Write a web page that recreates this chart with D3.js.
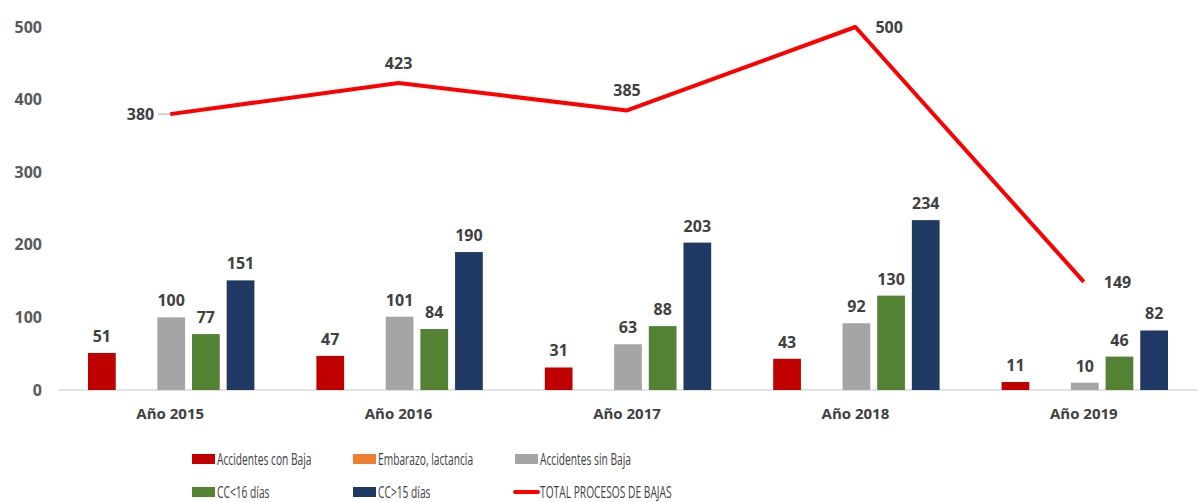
<!DOCTYPE html>
<html>
<head>
<meta charset="utf-8">
<script src="https://cdn.jsdelivr.net/npm/d3@7"></script>
<style>
  body { margin: 0; background: #fff; }
  svg { display: block; }
  .val { font-family: "Open Sans", sans-serif; font-weight: bold; font-size: 16px; fill: #404040; }
  .cat { font-family: "Open Sans", sans-serif; font-weight: bold; font-size: 15px; fill: #404040; }
  .tick text { font-family: "Open Sans", sans-serif; font-weight: bold; font-size: 16px; fill: #595959; }
  .leg { font-family: "Open Sans", sans-serif; font-size: 16.5px; fill: #404040; }
</style>
</head>
<body>
<svg width="1198" height="502"></svg>
<script>
// data
const years = ['Año 2015', 'Año 2016', 'Año 2017', 'Año 2018', 'Año 2019']
const accConBaja = [51, 47, 31, 43, 11]
const embarazo = [0, 0, 0, 0, 0]
const accSinBaja = [100, 101, 63, 92, 10]
const ccMenor16 = [77, 84, 88, 130, 46]
const ccMayor15 = [151, 190, 203, 234, 82]
const totalBajas = [380, 423, 385, 500, 149]
const yTicks = [0, 100, 200, 300, 400, 500]

const seriesNames = ['Accidentes con Baja', 'Embarazo, lactancia', 'Accidentes sin Baja', 'CC<16 días', 'CC>15 días']
const seriesColors = ['#c00000', '#ed7d31', '#a5a5a5', '#548235', '#203864']
const barSeries = [accConBaja, embarazo, accSinBaja, ccMenor16, ccMayor15]
const lineName = 'TOTAL PROCESOS DE BAJAS'
// where each total label sits relative to its point
const lineLabelPos = ['left', 'top', 'top', 'right', 'right']

const svg = d3.select('svg')
const margin = {left: 56, right: 0}
const width = 1198, height = 502

const x = d3.scaleBand().domain(years).range([margin.left, width - margin.right])
  .paddingInner(0).paddingOuter(0)
const xs = d3.scaleBand().domain(d3.range(barSeries.length))
  .range([32, x.bandwidth() - 30]).paddingInner(0.2).paddingOuter(0)
const y = d3.scaleLinear().domain([0, 500]).range([390, 27])

// y axis, labels only
const yAxis = svg.append('g')
  .attr('transform', 'translate(42,0)')
  .call(d3.axisLeft(y).tickValues(yTicks).tickSize(0).tickPadding(0))
yAxis.select('.domain').remove()

// baseline
svg.append('line')
  .attr('x1', 58).attr('x2', width)
  .attr('y1', y(0)).attr('y2', y(0))
  .attr('stroke', '#d9d9d9').attr('stroke-width', 1.5)

// category labels
svg.selectAll('.cat')
  .data(years)
  .enter()
  .append('text')
  .attr('class', 'cat')
  .attr('x', d => x(d) + x.bandwidth() / 2)
  .attr('y', 419)
  .attr('text-anchor', 'middle')
  .text(d => d)

// bars
barSeries.forEach((vals, s) => {
  const g = svg.append('g')
  g.selectAll('rect')
    .data(vals)
    .enter()
    .append('rect')
    .attr('x', (d, i) => x(years[i]) + xs(s))
    .attr('width', xs.bandwidth())
    .attr('y', d => y(d))
    .attr('height', d => y(0) - y(d))
    .attr('fill', seriesColors[s])
  g.selectAll('text')
    .data(vals.map((v, i) => ({v, i})).filter(d => d.v > 0))
    .enter()
    .append('text')
    .attr('class', 'val')
    .attr('x', d => x(years[d.i]) + xs(s) + xs.bandwidth() / 2)
    .attr('y', d => y(d.v) - 11)
    .attr('text-anchor', 'middle')
    .text(d => d.v)
})

// total line
const cx = d => x(d) + x.bandwidth() / 2
const line = d3.line()
  .x((d, i) => cx(years[i]))
  .y(d => y(d))
svg.append('path')
  .datum(totalBajas)
  .attr('d', line)
  .attr('fill', 'none')
  .attr('stroke', '#ff0000')
  .attr('stroke-width', 4)
  .attr('stroke-linejoin', 'round')

totalBajas.forEach((v, i) => {
  const px = cx(years[i]), py = y(v)
  const pos = lineLabelPos[i]
  let tx = px, ty = py, anchor = 'middle'
  if (pos == 'left') {
    svg.append('line')
      .attr('x1', px - 12).attr('x2', px)
      .attr('y1', py).attr('y2', py)
      .attr('stroke', '#a6a6a6').attr('stroke-width', 1)
    tx = px - 16; ty = py + 6; anchor = 'end'
  } else if (pos == 'top') {
    ty = py - 14
  } else {
    tx = px + 20; ty = py + 6; anchor = 'start'
  }
  svg.append('text')
    .attr('class', 'val')
    .attr('x', tx).attr('y', ty)
    .attr('text-anchor', anchor)
    .text(v)
})

// legend
const legendItems = seriesNames.map((n, i) => ({name: n, color: seriesColors[i], type: 'rect'}))
legendItems.push({name: lineName, color: '#ff0000', type: 'line'})
const legCols = [192, 353, 515]
const legRows = [459, 492]
legendItems.forEach((d, i) => {
  const lx = legCols[i % 3], ly = legRows[Math.floor(i / 3)]
  if (d.type == 'rect') {
    svg.append('rect')
      .attr('x', lx).attr('y', ly - 5)
      .attr('width', 23).attr('height', 10)
      .attr('fill', d.color)
  } else {
    svg.append('line')
      .attr('x1', lx).attr('x2', lx + 23)
      .attr('y1', ly).attr('y2', ly)
      .attr('stroke', d.color).attr('stroke-width', 4)
      .attr('stroke-linecap', 'round')
  }
  // condensed look: squeeze the text horizontally
  svg.append('text')
    .attr('class', 'leg')
    .attr('transform', 'translate(' + (lx + 25) + ',' + (ly + 6) + ') scale(0.62,1)')
    .text(d.name)
})
</script>
</body>
</html>
